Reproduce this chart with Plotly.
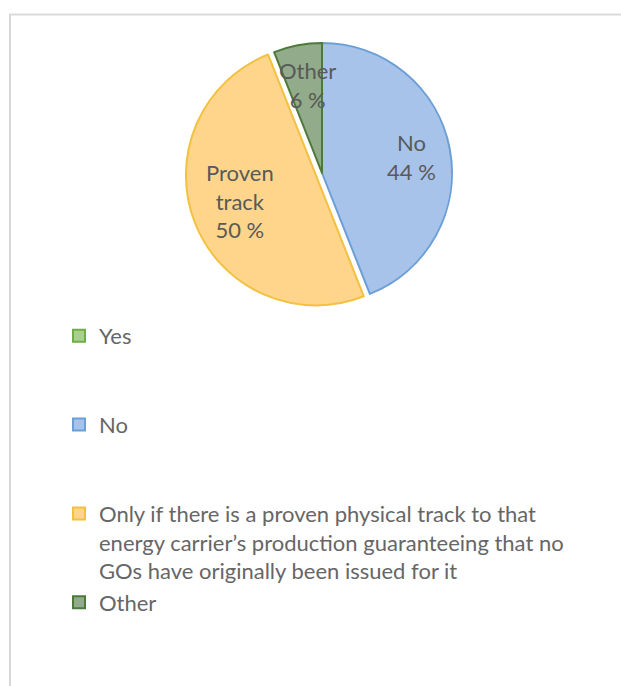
import plotly.graph_objects as go

# Survey answers and their shares
categories = ["Yes", "No", "Proven track", "Other"]
legend_names = [
    "Yes",
    "No",
    "Only if there is a proven physical track to that<br>energy carrier\u2019s production guaranteeing that no<br>GOs have originally been issued for it",
    "Other",
]
values = [0, 44, 50, 6]
slice_names = ["Yes", "No", "Proven<br>track", "Other"]

fill_colors = ["#a9d18e", "#a7c3ea", "#fed58a", "#92ab8a"]
line_colors = ["#70ad47", "#6c9fd6", "#f3c141", "#4d7a3a"]
pulls = [0, 0, 0.05, 0]

W, H = 621, 686
TEXT = "#595959"
FONT = "Lato"

# pad single-line legend entries so every entry takes three lines
legend_text = []
for name in legend_names:
    n = name.count("<br>") + 1
    legend_text.append(name + "<br> " * (3 - n))

fig = go.Figure(
    go.Pie(
        labels=legend_text,
        values=values,
        sort=False,
        direction="clockwise",
        rotation=0,
        pull=pulls,
        marker=dict(colors=fill_colors, line=dict(color=line_colors, width=2)),
        textinfo="none",
        hoverinfo="label+percent",
        domain=dict(x=[185.5 / W, 458.5 / W], y=[1 - 309.5 / H, 1 - 36.5 / H]),
    )
)

# slice labels: name and percentage
total = sum(values)
label_pos = {"No": (412, 157), "Proven<br>track": (240, 201), "Other": (307, 85)}
for name, v in zip(slice_names, values):
    if name not in label_pos:
        continue
    px, py = label_pos[name]
    fig.add_annotation(
        x=px / W, y=1 - py / H, xref="paper", yref="paper",
        xanchor="center", yanchor="middle",
        text=f"{name}<br>{round(v / total * 100)} %",
        showarrow=False, align="center",
        font=dict(family=FONT, size=22, color=TEXT),
    )

# chart frame
fig.add_shape(
    type="rect", xref="paper", yref="paper",
    x0=10 / W, x1=1.05, y0=-0.05, y1=1 - 14.5 / H,
    line=dict(color="#d9d9d9", width=2), fillcolor="rgba(0,0,0,0)",
)

fig.update_layout(
    width=W, height=H,
    margin=dict(l=0, r=0, t=0, b=0),
    paper_bgcolor="white",
    plot_bgcolor="white",
    showlegend=True,
    legend=dict(
        x=59 / W, y=1 - 315 / H, xanchor="left", yanchor="top",
        valign="top",
        font=dict(family=FONT, size=22, color="#666666"),
        bgcolor="rgba(0,0,0,0)",
        traceorder="normal",
    ),
)

fig.write_html("out.html")
